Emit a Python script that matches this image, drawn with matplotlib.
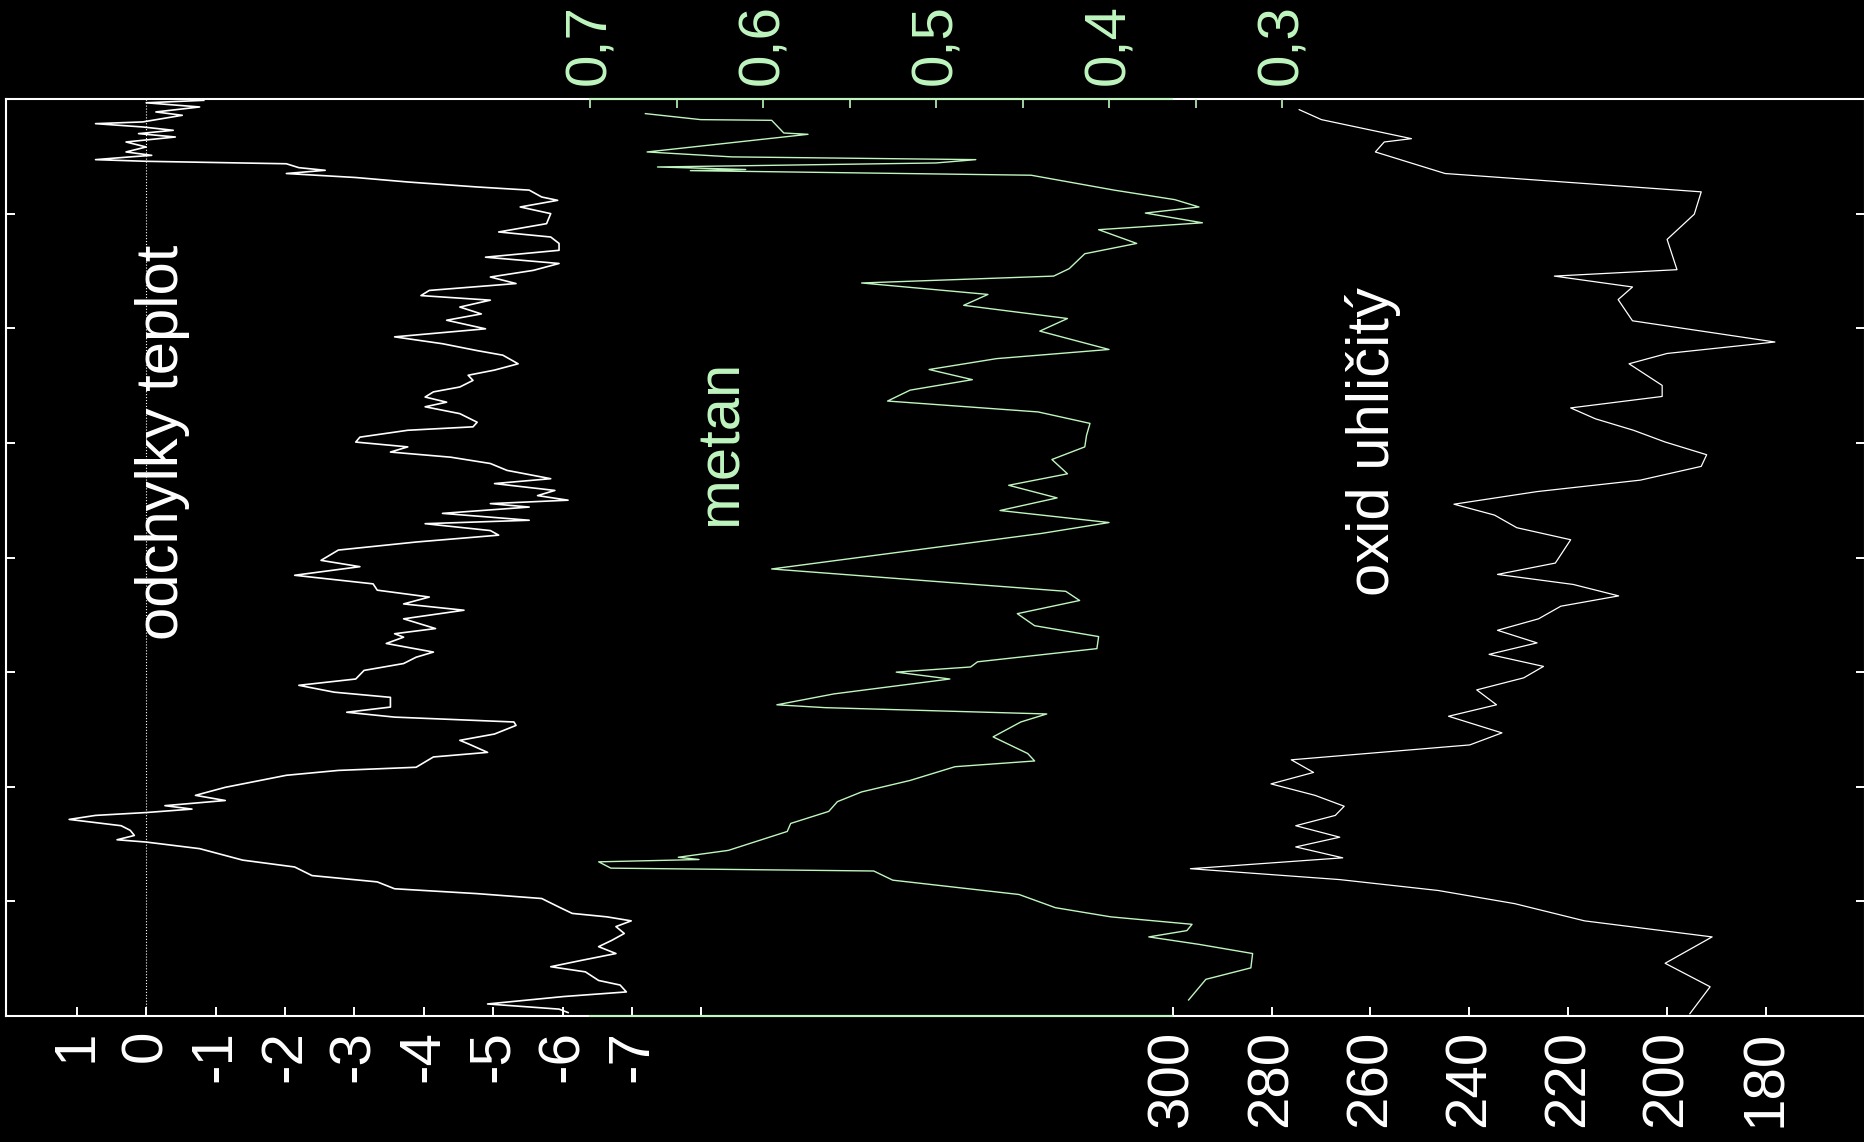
import matplotlib
matplotlib.use('Agg')
import matplotlib.pyplot as plt

plt.rcParams['font.family'] = ['Liberation Sans', 'DejaVu Sans']

# --- data (age in thousands of years) ---
temp_age = [0.23, 0.66, 1.39, 2.26, 2.84, 4.0, 4.3, 4.88, 5.46, 6.04, 6.63, 7.5, 8.37, 9.24,
            9.83, 10.1, 10.58, 10.87, 11.3, 11.98, 12.44, 13.0, 13.7, 14.48, 15.35, 15.9,
            17.1, 17.68, 18.84, 20.0, 21.75, 23.2, 24.08, 25.2, 26.4, 27.6, 28.7, 29.9,
            31.06, 32.2, 33.4, 34.3, 35.1, 36.3, 37.5, 38.6, 40.1, 41.5, 42.7, 43.9, 44.7,
            46.2, 47.3, 48.2, 49.1, 50.25, 51.1, 52.0, 52.9, 53.7, 54.9, 56.4, 57.2, 57.8,
            59.0, 59.86, 60.7, 61.6, 62.5, 63.6, 64.8, 66.25, 67.1, 68.3, 69.2, 70.0, 70.6,
            71.2, 72.3, 73.5, 74.1, 75.3, 76.1, 77.3, 78.7, 80.5, 81.6, 83.1, 84.6, 85.7,
            86.9, 88.1, 89.2, 90.7, 92.4, 93.3, 93.9, 95.0, 96.5, 97.4, 98.5, 99.7, 101.2,
            102.3, 103.5, 104.4, 106.1, 107.0, 107.85, 108.7, 109.3, 110.8, 111.9, 112.5,
            114.0, 114.8, 116.6, 117.15, 118.0, 118.9, 120.1, 121.5, 122.4, 123.3, 123.9,
            124.5, 125.0, 125.7, 126.8, 127.6, 128.5, 129.25, 129.65, 130.8, 132.8, 134.0,
            135.5, 136.6, 137.8, 138.65, 139.5, 141.0, 142.1, 142.7, 143.4, 144.4, 145.6,
            146.8, 147.9, 149.1, 150.3, 151.4, 152.3, 153.8, 154.6, 155.8, 156.6, 157.9,
            158.8, 159.4]
temp_dev = [-0.83, 0.0, -0.77, -0.14, -0.52, 0.05, 0.73, 0.05, -0.39, 0.11, -0.42, 0.29, 0.0,
            0.29, -0.08, 0.23, 0.73, 0.0, -2.02, -2.2, -2.58, -2.02, -3.02, -3.77, -4.77,
            -5.52, -5.7, -5.93, -5.39, -5.83, -5.77, -5.08, -5.83, -5.95, -5.95, -4.89, -5.95,
            -5.58, -4.96, -5.33, -4.08, -3.96, -4.96, -4.52, -4.83, -4.33, -4.89, -3.58, -4.27,
            -4.77, -5.14, -5.36, -5.02, -4.64, -4.71, -4.52, -4.14, -4.02, -4.33, -4.02, -4.52,
            -4.77, -4.71, -3.77, -3.08, -3.02, -3.77, -3.52, -4.39, -4.96, -5.2, -5.83, -5.02,
            -5.89, -5.64, -6.08, -4.96, -5.52, -4.27, -5.52, -4.02, -4.96, -5.08, -3.89, -2.77,
            -2.52, -3.08, -2.14, -3.27, -3.33, -4.08, -3.71, -4.58, -3.71, -4.17, -3.58, -3.71,
            -3.46, -4.14, -3.89, -3.71, -3.14, -3.02, -2.2, -2.71, -3.52, -3.52, -2.89, -3.58,
            -5.3, -5.33, -5.02, -4.52, -4.64, -4.92, -4.14, -3.89, -2.77, -2.02, -1.64, -1.14,
            -0.71, -1.14, -0.27, -0.66, 0.0, 0.73, 1.11, 0.36, 0.23, 0.17, 0.42, 0.0, -0.77,
            -1.39, -2.14, -2.39, -3.33, -3.58, -4.77, -5.7, -5.95, -6.14, -6.64, -6.99, -6.77,
            -6.89, -6.71, -6.52, -6.77, -6.27, -5.83, -6.33, -6.52, -6.83, -6.92, -6.02, -4.92,
            -5.95, -6.08]

ch4_age = [2.55, 3.6, 3.72, 5.93, 6.16, 9.24, 10.1, 10.58, 11.16, 11.86, 12.3, 12.5, 13.3,
           15.9, 17.56, 18.84, 19.9, 21.6, 22.8, 25.2, 27.0, 29.6, 30.9, 32.1, 34.1, 36.0,
           38.3, 40.5, 43.7, 45.3, 47.2, 48.97, 50.8, 52.7, 54.6, 56.6, 58.7, 60.7, 62.9,
           65.4, 67.4, 69.6, 71.8, 73.9, 75.8, 82.0, 84.6, 85.9, 87.5, 89.8, 91.9, 93.8,
           95.9, 98.2, 99.1, 100.0, 101.2, 103.8, 105.7, 106.2, 107.3, 108.7, 111.3, 114.2,
           115.5, 116.5, 118.9, 120.9, 122.6, 124.3, 126.4, 127.8, 131.1, 132.3, 132.7,
           133.1, 134.2, 134.7, 136.3, 138.8, 141.1, 142.7, 144.0, 145.1, 146.2, 147.5,
           149.1, 151.6, 153.6, 157.2]
ch4_ppm = [0.668, 0.636, 0.595, 0.588, 0.574, 0.667, 0.618, 0.477, 0.500, 0.661, 0.610, 0.642,
           0.445, 0.397, 0.362, 0.348, 0.379, 0.346, 0.406, 0.384, 0.414, 0.423, 0.432, 0.543,
           0.470, 0.484, 0.424, 0.440, 0.400, 0.465, 0.504, 0.479, 0.515, 0.528, 0.441, 0.411,
           0.413, 0.414, 0.433, 0.424, 0.458, 0.430, 0.463, 0.400, 0.439, 0.595, 0.482, 0.425,
           0.417, 0.453, 0.443, 0.406, 0.407, 0.476, 0.480, 0.523, 0.492, 0.559, 0.592, 0.564,
           0.436, 0.451, 0.467, 0.447, 0.443, 0.489, 0.515, 0.543, 0.557, 0.562, 0.584, 0.586,
           0.620, 0.649, 0.637, 0.695, 0.688, 0.536, 0.525, 0.452, 0.431, 0.399, 0.352, 0.355,
           0.377, 0.348, 0.317, 0.318, 0.344, 0.354]

co2_age = [1.86, 3.6, 6.92, 7.5, 9.24, 13.0, 16.2, 20.1, 24.5, 29.78, 30.9, 32.8, 35.0, 38.7,
           42.4, 44.4, 46.2, 49.97, 51.9, 53.9, 55.8, 57.8, 59.85, 62.07, 64.1, 66.5, 68.5,
           70.7, 72.6, 74.8, 76.9, 80.97, 82.95, 84.7, 86.7, 88.5, 90.7, 92.7, 94.9, 96.9,
           99.0, 101.0, 103.1, 105.7, 107.7, 110.6, 112.7, 115.3, 117.5, 119.5, 121.5, 123.4,
           125.0, 126.8, 128.8, 130.5, 132.4, 134.3, 136.2, 138.1, 140.4, 143.4, 146.2, 150.8,
           154.9, 159.6]
co2_ppm = [274.4, 269.9, 251.7, 257.2, 259.0, 244.9, 193.1, 194.5, 200.0, 198.0, 222.8, 207.0,
           209.9, 207.0, 178.2, 200.0, 207.7, 201.0, 201.0, 219.5, 214.5, 206.8, 200.4, 192.0,
           193.1, 205.4, 226.3, 243.1, 234.9, 230.4, 219.5, 222.6, 234.3, 219.0, 209.8, 221.5,
           226.0, 234.3, 226.3, 236.0, 225.0, 229.0, 238.5, 234.5, 244.2, 233.4, 239.9, 276.0,
           271.5, 280.1, 271.2, 265.3, 267.1, 275.1, 266.2, 275.1, 265.6, 296.4, 266.2, 246.3,
           230.8, 216.7, 190.9, 200.4, 191.3, 195.4]

temp_ticks = [1, 0, -1, -2, -3, -4, -5, -6, -7, -8]
temp_labels = ['1', '0', '-1', '-2', '-3', '-4', '-5', '-6', '-7', '']
ch4_ticks = [0.7, 0.6, 0.5, 0.4, 0.3]
ch4_minor = [0.65, 0.55, 0.45, 0.35]
ch4_labels = ['0,7', '0,6', '0,5', '0,4', '0,3']
co2_ticks = [300, 280, 260, 240, 220, 200, 180]
age_ticks = [0, 20, 40, 60, 80, 100, 120, 140, 160]

W, H = 1864, 1142
GREEN = '#bff5bf'
FS = 42

fig = plt.figure(figsize=(W / 100, H / 100), dpi=100, facecolor='black')
ax = fig.add_axes([6 / W, 1 - 1016 / H, 1859 / W, 917 / H])
ax.set_facecolor('black')

# temperature (main axes), time runs downward
ax.plot(temp_dev, temp_age, color='white', lw=1.2)
ax.axvline(0, color='white', lw=0.8, ls=':')
ax.set_xlim(2.02, -24.77)
ax.set_ylim(160, 0)
ax.set_xticks(temp_ticks)
ax.set_xticklabels(temp_labels, rotation=90, fontsize=FS, color='white')
ax.set_yticks(age_ticks)
ax.set_yticklabels([])
ax.tick_params(axis='x', direction='in', length=6.3, width=1.4, pad=10, color='white')
ax.tick_params(axis='y', direction='in', length=6.3, width=1.4, left=True, right=True,
               color='white')
for s in ax.spines.values():
    s.set_color('white')
    s.set_linewidth(1.5)

# carbon dioxide
ax_c = ax.twiny()
ax_c.plot(co2_ppm, co2_age, color='white', lw=0.9)
ax_c.set_xlim(535.92, 159.98)
ax_c.xaxis.tick_bottom()
ax_c.set_xticks(co2_ticks)
ax_c.set_xticklabels([str(v) for v in co2_ticks], rotation=90, fontsize=FS, color='white')
ax_c.tick_params(axis='x', direction='in', length=6.3, width=1.4, pad=10, color='white')
for s in ax_c.spines.values():
    s.set_visible(False)

# methane
ax_m = ax.twiny()
ax_m.plot(ch4_ppm, ch4_age, color=GREEN, lw=1.0)
ax_m.set_xlim(1.0376, -0.037)
ax_m.set_xticks(ch4_ticks)
ax_m.set_xticks(ch4_minor, minor=True)
ax_m.set_xticklabels(ch4_labels, rotation=90, fontsize=FS, color=GREEN)
ax_m.tick_params(axis='x', which='both', direction='in', length=6.3, width=1.2,
                 pad=10, color=GREEN)
ax_m.spines['left'].set_visible(False)
ax_m.spines['right'].set_visible(False)
for side in ['top', 'bottom']:
    ax_m.spines[side].set_color(GREEN)
    ax_m.spines[side].set_linewidth(1.5)
    ax_m.spines[side].set_bounds(0.7, 0.3636)

# curve names
fig.text(178 / W, 1 - 442.5 / H, 'odchylky teplot', rotation=90, rotation_mode='anchor',
         ha='center', va='baseline', fontsize=43, color='white')
fig.text(737 / W, 1 - 442.5 / H, 'metan', rotation=90, rotation_mode='anchor',
         ha='center', va='baseline', fontsize=43, color=GREEN)
fig.text(1389 / W, 1 - 442 / H, 'oxid uhličitý', rotation=90, rotation_mode='anchor',
         ha='center', va='baseline', fontsize=43, color='white')

fig.savefig('out.png', dpi=100, facecolor='black')
